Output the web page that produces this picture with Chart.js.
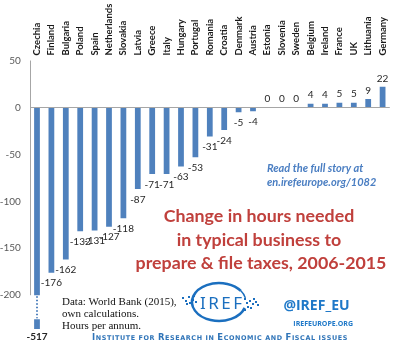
<!DOCTYPE html>
<html><head><meta charset="utf-8">
<script src="https://cdn.jsdelivr.net/npm/chart.js@4.4.1/dist/chart.umd.min.js"></script>
<style>html,body{margin:0;padding:0;background:#fff;}canvas{display:block;}</style>
</head><body>
<canvas id="c" width="415" height="344"></canvas>
<script>
// ---- data ----
const countries = ['Czechia','Finland','Bulgaria','Poland','Spain','Netherlands','Slovakia','Latvia','Greece','Italy','Hungary','Portugal','Romania','Croatia','Denmark','Austria','Estonia','Slovenia','Sweden','Belgium','Ireland','France','UK','Lithuania','Germany'];
const hoursChange = [-517,-176,-162,-132,-131,-127,-118,-87,-71,-71,-63,-53,-31,-24,-5,-4,0,0,0,4,4,5,5,9,22];
const yTickValues = [50,0,-50,-100,-150,-200];
const axisBreak = -200;          // bars below this are cut
const stubRange = [-225.5,-236]; // short stub shown below the break
const yMax = 50, yMin = -236;

const BLUE = '#4f81bd';
const shown = hoursChange.map(v => Math.max(v, axisBreak));
const stub = hoursChange.map(v => v < axisBreak ? stubRange : null);
const LABEL_SIZE = 9.5;

const overlay = {
  id: 'overlay',
  afterDatasetsDraw(chart) {
    const ctx = chart.ctx;
    const ys = chart.scales.y;
    const ca = chart.chartArea;
    ctx.save();
    ctx.strokeStyle = '#a6a6a6'; ctx.lineWidth = 1;
    ctx.beginPath();
    ctx.moveTo(Math.round(ca.left) + 0.5, ys.getPixelForValue(yMax));
    ctx.lineTo(Math.round(ca.left) + 0.5, ys.getPixelForValue(axisBreak));
    ctx.stroke();
    const meta = chart.getDatasetMeta(0);
    const metaStub = chart.getDatasetMeta(1);
    ctx.fillStyle = '#262626';
    ctx.textAlign = 'center'; ctx.textBaseline = 'middle';
    meta.data.forEach((el, i) => {
      const v = hoursChange[i];
      if (v < axisBreak) {
        ctx.save();
        ctx.strokeStyle = BLUE; ctx.lineWidth = 2; ctx.setLineDash([1.5, 2]);
        ctx.beginPath();
        ctx.moveTo(el.x, ys.getPixelForValue(axisBreak) + 1);
        ctx.lineTo(el.x, ys.getPixelForValue(stubRange[0]) - 1);
        ctx.stroke();
        ctx.restore();
        ctx.font = 'bold 10px Lato';
        ctx.fillText(String(v), el.x, ys.getPixelForValue(stubRange[1]) + 8);
        return;
      }
      ctx.font = '10px Lato';
      if (v < 0) ctx.fillText(String(v), el.x, el.y + 10.5);
      else ctx.fillText(String(v), el.x, el.y - 8.5);
    });
    ctx.restore();
  },
  afterDraw(chart) {
    const ctx = chart.ctx;
    ctx.save();
    ctx.fillStyle = '#4a7ec2';
    ctx.textAlign = 'left'; ctx.textBaseline = 'middle';
    ctx.font = 'italic bold 11px Lato';
    ctx.fillText('Read the full story at', 267, 168);
    ctx.fillText('en.irefeurope.org/1082', 267, 182);
    ctx.fillStyle = '#c0403c';
    ctx.textAlign = 'center';
    ctx.font = 'bold 17.8px Lato';
    ctx.fillText('Change in hours needed', 259, 216);
    ctx.fillText('in typical business to', 259, 240);
    ctx.fillText('prepare & file taxes, 2006-2015', 261, 263);
    ctx.fillStyle = '#111';
    ctx.textAlign = 'left';
    ctx.font = '11px "Liberation Serif"';
    ctx.fillText('Data: World Bank (2015),', 62, 302);
    ctx.fillText('own calculations.', 62, 314);
    ctx.fillText('Hours per annum.', 62, 326);
    // logo
    const LB = '#1b6fbf';
    ctx.strokeStyle = LB; ctx.lineWidth = 2.5;
    ctx.beginPath();
    ctx.ellipse(219, 302, 27, 19, 0, 0.1 * Math.PI, 1.8 * Math.PI);
    ctx.stroke();
    ctx.lineWidth = 1.5;
    ctx.beginPath();
    ctx.ellipse(219, 302, 27, 19, 0, 1.8 * Math.PI, 1.93 * Math.PI);
    ctx.stroke();
    ctx.fillStyle = LB;
    ctx.textAlign = 'left';
    ctx.font = '17px "Noto Sans"';
    ctx.letterSpacing = '2.5px';
    ctx.fillText('IREF', 200, 304);
    ctx.letterSpacing = '0px';
    const dots = [[182,297],[185,300],[188,296],[189,302],[192,299],[193,295],[186,303],[195,301],
                  [244,298],[246,302],[249,300],[247,306],[252,303],[255,301],[250,307],[257,304],[244,309],[253,298]];
    dots.forEach(([x,y]) => ctx.fillRect(x, y, 2, 2));
    ctx.fillStyle = '#1e78c8';
    ctx.textAlign = 'center';
    ctx.font = 'bold 14px "Open Sans"';
    ctx.fillText('@IREF_EU', 316.5, 306.5);
    ctx.textAlign = 'right';
    ctx.font = 'bold 7px "Open Sans"';
    ctx.fillText('IREFEUROPE.ORG', 353, 323.5);
    const text = 'Institute for Research in Economic and Fiscal issues';
    const parts = [];
    let w = 0;
    for (const ch of text) {
      const up = ch.toUpperCase();
      const big = ch !== ' ' && ch === up;
      const f = 'bold ' + (big ? 8.5 : 6.5) + 'px "DejaVu Sans"';
      ctx.font = f;
      const cw = ctx.measureText(up).width + 0.6;
      parts.push([up, f, cw]);
      w += cw;
    }
    const target = 256, sx = target / w;
    ctx.translate(92, 339.5);
    ctx.scale(sx, 1);
    ctx.textAlign = 'left'; ctx.textBaseline = 'alphabetic';
    ctx.fillStyle = '#2f74b8';
    let x = 0;
    parts.forEach(([c, f, cw]) => { ctx.font = f; ctx.fillText(c, x, 0); x += cw; });
    ctx.restore();
  }
};

new Chart(document.getElementById('c'), {
  type: 'bar',
  data: {
    labels: countries,
    datasets: [
      { data: shown, backgroundColor: BLUE, grouped: false, barPercentage: 0.4, categoryPercentage: 1 },
      { data: stub, backgroundColor: BLUE, grouped: false, barPercentage: 0.4, categoryPercentage: 1 }
    ]
  },
  options: {
    responsive: false,
    animation: false,
    layout: { padding: { left: 0, right: 25.2, top: 0, bottom: 14 } },
    plugins: { legend: { display: false }, tooltip: { enabled: false } },
    scales: {
      x: {
        position: 'top',
        grid: { display: false, drawTicks: false },
        border: { display: false },
        ticks: { autoSkip: false, minRotation: 90, maxRotation: 90, padding: 5,
                 labelOffset: LABEL_SIZE * 1.2,
                 color: '#1a1a1a', font: { family: 'Lato', size: LABEL_SIZE, weight: 'bold' } },
        afterFit(s) { s.height = 60.5; }
      },
      y: {
        min: yMin, max: yMax,
        afterBuildTicks(s) { s.ticks = yTickValues.map(v => ({ value: v })); },
        grid: { drawTicks: false, lineWidth: 1,
                color: c => (c.tick && c.tick.value === 0) ? '#a6a6a6' : 'rgba(0,0,0,0)' },
        border: { display: false },
        ticks: { padding: 9, color: '#595959', font: { family: 'Lato', size: 10 } },
        afterFit(s) { s.width = 29.8; }
      }
    }
  },
  plugins: [overlay]
});
</script>
</body></html>
